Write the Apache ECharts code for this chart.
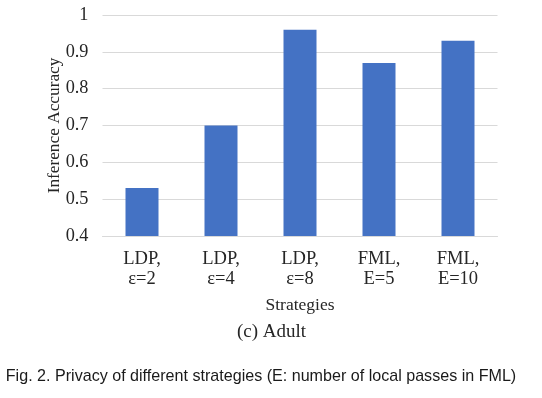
<!DOCTYPE html>
<html>
<head>
<meta charset="utf-8">
<script src="https://cdn.jsdelivr.net/npm/echarts@6/dist/echarts.min.js"></script>
<style>
html,body{margin:0;padding:0;background:#fff;}
#chart{width:542px;height:398px;}
</style>
</head>
<body>
<div id="chart"></div>
<script>
var categories = ['LDP,\nε=2', 'LDP,\nε=4', 'LDP,\nε=8', 'FML,\nE=5', 'FML,\nE=10'];
var accuracy = [0.53, 0.70, 0.96, 0.87, 0.93];
var yTicks = [0.4, 0.5, 0.6, 0.7, 0.8, 0.9, 1];

var serif = '"Liberation Serif", "DejaVu Serif", serif';
var chart = echarts.init(document.getElementById('chart'));
chart.setOption({
  animation: false,
  backgroundColor: '#ffffff',
  grid: { left: 102.5, right: 44.5, top: 15, bottom: 162, containLabel: false },
  xAxis: {
    type: 'category',
    data: categories,
    name: 'Strategies',
    nameLocation: 'middle',
    nameGap: 60,
    nameTextStyle: { fontFamily: serif, fontSize: 17.5, color: '#262626' },
    axisLine: { show: true, lineStyle: { color: '#d9d9d9', width: 1 } },
    axisTick: { show: false },
    axisLabel: { fontFamily: serif, fontSize: 18.5, color: '#262626', lineHeight: 20, margin: 13, interval: 0 }
  },
  yAxis: {
    type: 'value',
    min: yTicks[0],
    max: yTicks[yTicks.length - 1],
    interval: 0.1,
    name: 'Inference Accuracy',
    nameLocation: 'middle',
    nameGap: 40,
    nameMoveOverlap: false,
    nameTextStyle: { fontFamily: serif, fontSize: 17.3, color: '#262626' },
    axisLine: { show: false },
    axisTick: { show: false },
    axisLabel: {
      fontFamily: serif, fontSize: 18.3, color: '#262626', margin: 14,
      formatter: function (v) { return String(Math.round(v * 10) / 10); }
    },
    splitLine: { lineStyle: { color: '#d9d9d9', width: 1 } }
  },
  series: [{
    type: 'bar',
    data: accuracy,
    barWidth: 33,
    itemStyle: { color: '#4472c4' }
  }],
  graphic: [
    {
      type: 'text', x: 271.5, y: 332,
      style: { text: '(c) Adult', font: '19px ' + serif, fill: '#262626', textAlign: 'center', textVerticalAlign: 'middle' }
    },
    {
      type: 'text', x: 261, y: 377,
      style: { text: 'Fig. 2. Privacy of different strategies (E: number of local passes in FML)', font: '16.1px "Liberation Sans", Arial, sans-serif', fill: '#1a1a1a', textAlign: 'center', textVerticalAlign: 'middle' }
    }
  ]
});
</script>
</body>
</html>
